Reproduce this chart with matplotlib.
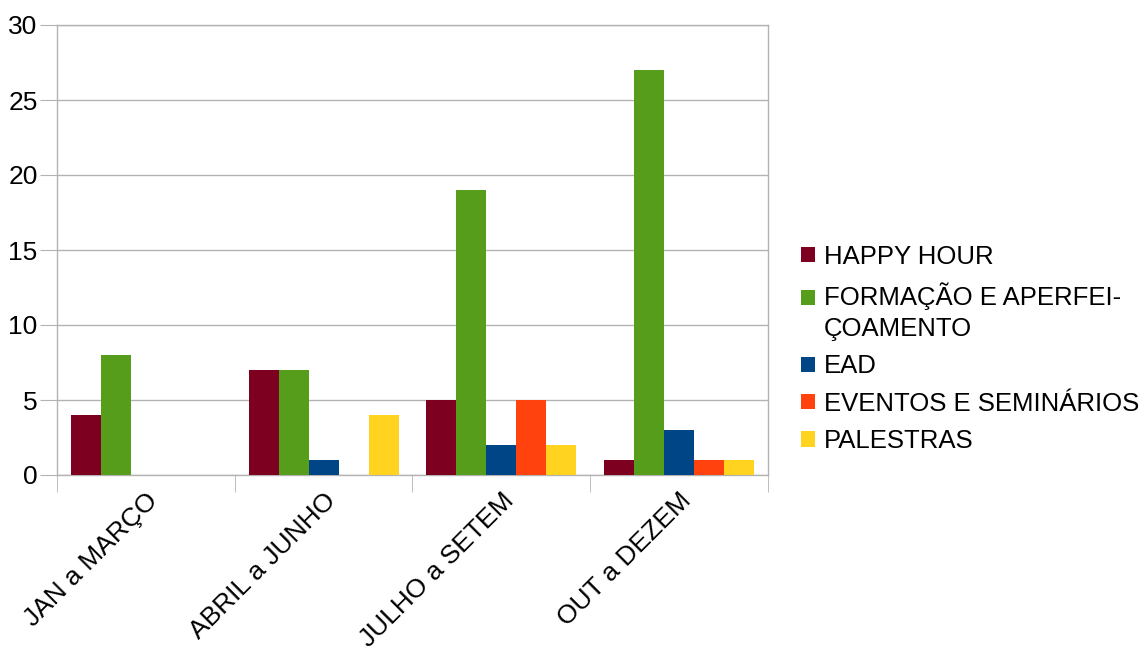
import matplotlib
matplotlib.use("Agg")
import matplotlib.pyplot as plt
import numpy as np
from matplotlib.patches import Patch, Rectangle
from matplotlib.legend_handler import HandlerPatch

plt.rcParams['font.family'] = ['Liberation Sans', 'DejaVu Sans']

categories = ["JAN a MARÇO", "ABRIL a JUNHO", "JULHO a SETEM", "OUT a DEZEM"]
series_names = ["HAPPY HOUR", "FORMAÇÃO E APERFEI-\nÇOAMENTO", "EAD",
                "EVENTOS E SEMINÁRIOS", "PALESTRAS"]
happy_hour = [4, 7, 5, 1]
formacao = [8, 7, 19, 27]
ead = [0, 1, 2, 3]
eventos = [0, 0, 5, 1]
palestras = [0, 4, 2, 1]
colors = ["#7e0021", "#579d1c", "#004586", "#ff420e", "#ffd320"]

series = [happy_hour, formacao, ead, eventos, palestras]

fig = plt.figure(figsize=(11.46, 6.48), dpi=100)
ax = fig.add_axes([57/1146, 1-475/648, (768-57)/1146, (475-25)/648])

x = np.arange(len(categories))
w = 30/178
n = len(series)
for i, (vals, c) in enumerate(zip(series, colors)):
    ax.bar(x + (i - (n-1)/2)*w, vals, width=w, color=c, linewidth=0, zorder=3)

ax.set_xlim(-0.5, len(categories)-0.5)
ax.set_ylim(0, 30)
ax.set_yticks(range(0, 31, 5))
ax.grid(axis='y', color='#b3b3b3', linewidth=1, zorder=0)
for s in ax.spines.values():
    s.set_color('#b3b3b3')
    s.set_linewidth(1)
ax.tick_params(axis='y', length=12, color='#b3b3b3', labelsize=19, pad=2)

ax.set_xticks(x)
ax.set_xticklabels(categories, rotation=45, ha='right', rotation_mode='anchor',
                   fontsize=19)
ax.tick_params(axis='x', which='major', length=0, pad=10)
ax.set_xticks(np.arange(-0.5, len(categories), 1), minor=True)
ax.tick_params(axis='x', which='minor', length=12, color='#b3b3b3')


def shifted_patch(legend, orig_handle, xdescent, ydescent, width, height, fontsize):
    return Rectangle((-xdescent, -ydescent + 10.4), width, height)


handles = [Patch(facecolor=c, edgecolor='none') for c in colors]
leg = fig.legend(handles, series_names, loc='center left',
                 bbox_to_anchor=(801/1146, 1-349/648), frameon=False,
                 fontsize=18.5, handlelength=0.55, handleheight=0.55,
                 handletextpad=0.35, labelspacing=0.52, borderaxespad=0,
                 borderpad=0,
                 handler_map={handles[1]: HandlerPatch(patch_func=shifted_patch)})
for t in leg.get_texts():
    t.set_linespacing(1.38)

fig.savefig("out.png", dpi=100)
